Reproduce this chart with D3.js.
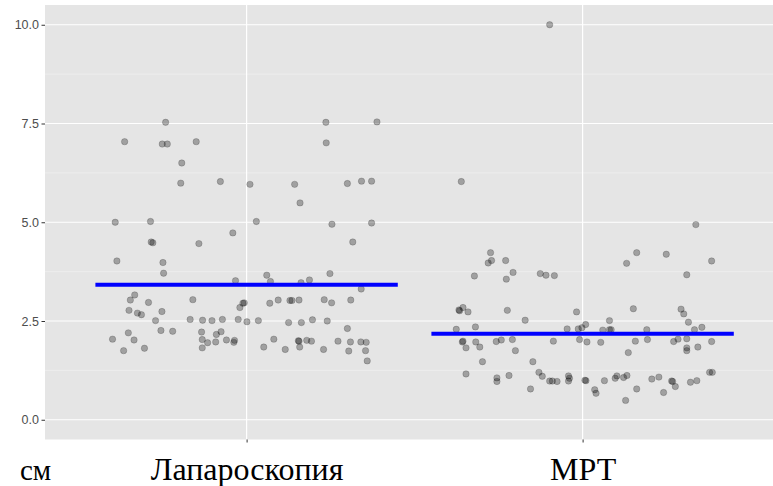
<!DOCTYPE html>
<html>
<head>
<meta charset="utf-8">
<script src="https://cdn.jsdelivr.net/npm/d3@7"></script>
<style>
  html, body { margin: 0; padding: 0; background: #ffffff; }
  svg { display: block; }
</style>
</head>
<body>
<svg id="chart" width="773" height="486"></svg>
<script>
// Groups on the x axis
const categories = ["Лапароскопия", "МРТ"];

// Horizontal jitter of each point (in category units) and its measured value, in cm
const lapJitter = [-0.241,-0.363,-0.251,-0.236,-0.150,-0.193,-0.196,-0.078,0.010,-0.391,
  -0.286,-0.041,-0.284,-0.279,-0.142,-0.386,-0.249,0.236,0.388,0.237,
  0.143,0.300,0.342,0.372,0.159,0.029,0.254,0.372,0.316,-0.247,
  -0.033,-0.333,-0.346,-0.292,-0.160,-0.011,-0.007,-0.020,-0.350,-0.325,
  -0.313,-0.252,-0.271,-0.168,-0.131,-0.103,-0.072,-0.025,0.001,-0.352,
  -0.255,-0.220,-0.134,-0.399,-0.335,-0.132,-0.116,-0.092,-0.090,-0.076,
  -0.060,-0.036,-0.038,-0.366,-0.304,-0.132,0.060,0.071,0.248,0.162,
  0.187,0.341,0.069,0.094,0.129,0.135,0.156,0.231,0.253,0.310,
  0.035,0.125,0.163,0.196,0.240,0.300,0.081,0.051,0.115,0.154,
  0.156,0.158,0.179,0.193,0.229,0.272,0.309,0.340,0.356,0.304,
  0.354,0.359];
const lapValues = [7.53,7.04,6.98,6.98,7.04,6.50,5.99,6.03,5.96,5.00,
  5.02,4.73,4.50,4.48,4.46,4.02,3.98,7.53,7.54,7.01,
  5.96,5.98,6.04,6.04,5.49,5.02,4.95,4.98,4.50,3.71,
  3.52,3.16,3.03,2.97,3.04,2.95,2.96,2.84,2.77,2.70,
  2.66,2.74,2.51,2.54,2.52,2.51,2.54,2.54,2.48,2.20,
  2.26,2.24,2.22,2.04,2.02,2.03,1.95,1.97,2.16,2.23,
  2.02,2.01,1.96,1.75,1.81,1.82,3.66,3.50,3.70,3.47,
  3.54,3.31,2.95,3.03,3.02,3.02,3.03,3.04,2.96,3.03,
  2.51,2.46,2.46,2.53,2.50,2.31,2.04,1.84,1.78,2.00,
  1.99,1.84,2.01,1.99,1.78,1.99,1.97,1.97,1.96,1.74,
  1.75,1.49];

const mrtJitter = [-0.098,-0.361,-0.274,-0.271,-0.281,-0.229,-0.322,-0.227,-0.207,-0.126,
  -0.109,-0.084,-0.368,-0.366,-0.356,-0.341,-0.224,-0.171,-0.018,-0.376,
  -0.319,-0.046,-0.013,-0.002,0.009,-0.358,-0.356,-0.347,-0.318,-0.306,
  -0.257,-0.242,-0.209,-0.200,-0.087,-0.009,0.013,-0.298,-0.148,-0.347,
  -0.255,-0.255,-0.219,-0.155,-0.130,-0.120,-0.098,-0.090,-0.076,-0.042,
  -0.039,-0.042,0.007,0.010,0.151,0.293,0.301,0.315,0.080,0.060,
  0.080,0.085,0.191,0.333,0.355,0.054,0.157,0.193,0.136,0.271,
  0.284,0.310,0.310,0.310,0.343,0.384,0.378,0.386,0.036,0.040,
  0.065,0.097,0.102,0.122,0.132,0.128,0.161,0.206,0.227,0.241,
  0.265,0.268,0.276,0.321,0.340,0.337,0.161,0.131,0.249,0.384,
  0.310];
const mrtValues = [10.00,6.03,4.23,4.03,3.97,4.03,3.64,3.56,3.73,3.70,
  3.66,3.65,2.78,2.76,2.84,2.73,2.77,2.52,2.73,2.29,
  2.35,2.30,2.30,2.33,2.41,1.97,1.99,1.82,1.97,1.84,
  1.98,2.02,2.03,1.75,1.99,2.03,1.97,1.47,1.47,1.16,
  1.06,0.97,1.12,0.78,1.20,1.10,0.98,0.98,0.97,1.11,
  1.05,0.98,1.00,0.99,2.81,2.80,2.68,2.47,2.51,2.27,
  2.28,2.28,2.28,2.28,2.34,1.96,1.99,2.03,1.70,1.98,
  2.04,2.05,1.82,1.75,1.84,1.98,1.20,1.20,0.76,0.67,
  0.99,1.05,1.11,1.07,1.12,0.49,0.78,1.03,1.08,0.69,
  0.98,0.97,0.84,0.95,0.99,4.94,4.23,3.96,4.19,4.02,
  3.67];

// Group means drawn as horizontal segments
const groupMeans = [3.42, 2.18];

// Axis ticks
const yTicks = [0, 2.5, 5, 7.5, 10];
const yMinorTicks = [1.25, 3.75, 6.25, 8.75];
const unitLabel = "см";

const svg = d3.select("#chart");

const panel = { left: 45, top: 5, bottom: 439.5 };
const unitWidth = 336;                       // pixels per category step
const xScale = d3.scaleLinear()
  .domain([0.4, 2.6])
  .range([panel.left, panel.left + 2.2 * unitWidth]);
const yScale = d3.scaleLinear()
  .domain([-0.5, 10.5])
  .range([panel.bottom, panel.top]);

const x0 = xScale.range()[0], x1 = xScale.range()[1];

// Grey panel
svg.append("rect")
  .attr("x", x0).attr("y", panel.top)
  .attr("width", x1 - x0).attr("height", panel.bottom - panel.top)
  .attr("fill", "#e5e5e5");

// Grid lines
const grid = svg.append("g");
grid.selectAll("line.minor").data(yMinorTicks).join("line")
  .attr("class", "minor")
  .attr("x1", x0).attr("x2", x1)
  .attr("y1", d => yScale(d)).attr("y2", d => yScale(d))
  .attr("stroke", "#f2f2f2").attr("stroke-width", 0.6);
grid.selectAll("line.major").data(yTicks).join("line")
  .attr("class", "major")
  .attr("x1", x0).attr("x2", x1)
  .attr("y1", d => yScale(d)).attr("y2", d => yScale(d))
  .attr("stroke", "#ffffff").attr("stroke-width", 1.2);
grid.selectAll("line.vert").data(categories).join("line")
  .attr("class", "vert")
  .attr("x1", (d, i) => xScale(i + 1)).attr("x2", (d, i) => xScale(i + 1))
  .attr("y1", panel.top).attr("y2", panel.bottom)
  .attr("stroke", "#ffffff").attr("stroke-width", 1.2);

// Jittered points
const groups = [
  { jitter: lapJitter, values: lapValues },
  { jitter: mrtJitter, values: mrtValues }
];
const points = [];
groups.forEach((g, i) => {
  g.values.forEach((v, k) => points.push({ pos: i + 1 + g.jitter[k], value: v }));
});

svg.append("g").selectAll("circle").data(points).join("circle")
  .attr("cx", d => xScale(d.pos))
  .attr("cy", d => yScale(d.value))
  .attr("r", 3.2)
  .attr("fill", "#000").attr("fill-opacity", 0.3)
  .attr("stroke", "#000").attr("stroke-opacity", 0.22).attr("stroke-width", 0.8);

// Mean segments
svg.append("g").selectAll("line").data(groupMeans).join("line")
  .attr("x1", (d, i) => xScale(i + 1 - 0.45))
  .attr("x2", (d, i) => xScale(i + 1 + 0.45))
  .attr("y1", d => yScale(d)).attr("y2", d => yScale(d))
  .attr("stroke", "#0000ff").attr("stroke-width", 4);

// Y axis
const yAxis = svg.append("g")
  .attr("transform", `translate(${x0},0)`)
  .call(d3.axisLeft(yScale).tickValues(yTicks).tickFormat(d3.format(".1f"))
    .tickSize(3.5).tickPadding(2.5));
yAxis.select(".domain").remove();
yAxis.selectAll(".tick line").attr("stroke", "#333333");
yAxis.selectAll(".tick text")
  .attr("fill", "#4d4d4d")
  .style("font-family", "'Liberation Sans', Arial, sans-serif")
  .style("font-size", "12.5px");

// X axis with category names
const xAxis = svg.append("g")
  .attr("transform", `translate(0,${panel.bottom})`)
  .call(d3.axisBottom(xScale).tickValues([1, 2]).tickFormat(d => categories[d - 1])
    .tickSize(3).tickPadding(15));
xAxis.select(".domain").remove();
xAxis.selectAll(".tick line").attr("stroke", "#333333");
xAxis.selectAll(".tick text")
  .attr("fill", "#000000")
  .style("font-family", "'Liberation Serif', 'Times New Roman', serif")
  .style("font-size", "32px");

// Unit label
svg.append("text")
  .attr("x", 20).attr("y", 480)
  .attr("fill", "#000000")
  .style("font-family", "'Liberation Serif', 'Times New Roman', serif")
  .style("font-size", "29px")
  .text(unitLabel);
</script>
</body>
</html>
